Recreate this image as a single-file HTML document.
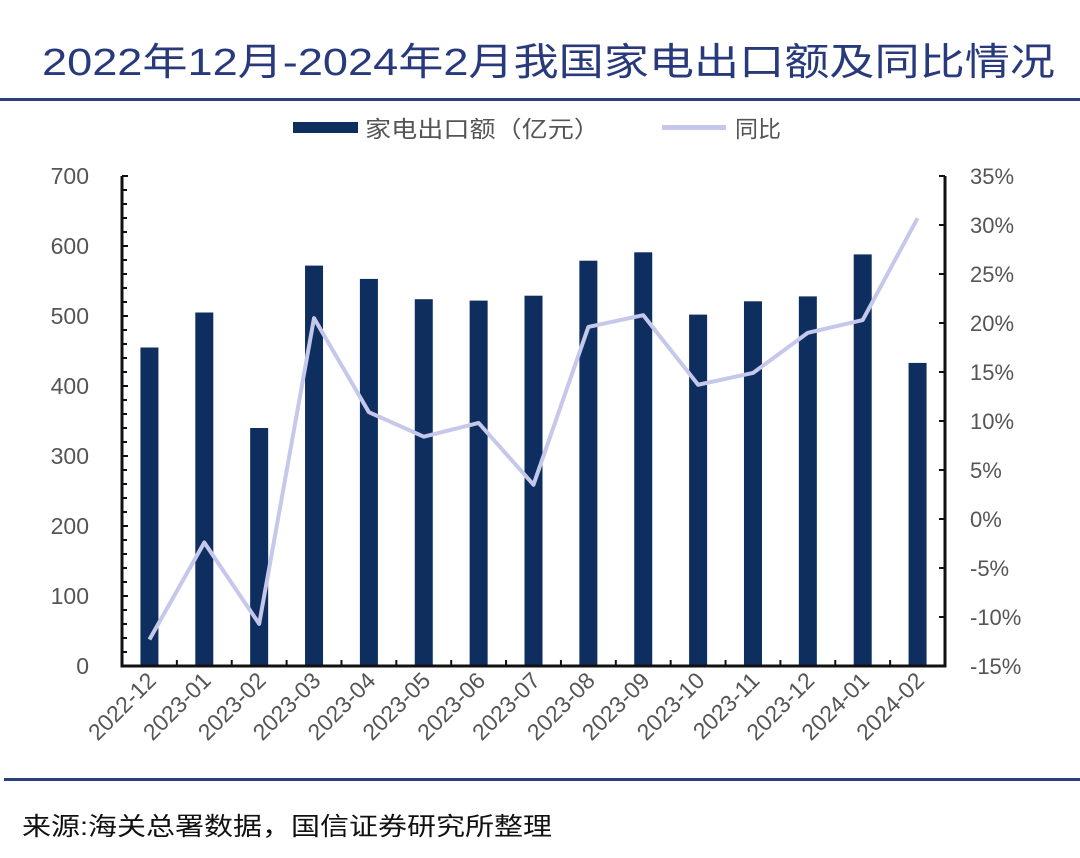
<!DOCTYPE html>
<html><head><meta charset="utf-8"><style>
body{margin:0;background:#fff;width:1080px;height:853px;overflow:hidden;font-family:"Liberation Sans","Noto Sans CJK SC",sans-serif;}
</style></head><body>
<svg width="1080" height="853" xmlns="http://www.w3.org/2000/svg">
<text x="42" y="75" textLength="1013" lengthAdjust="spacingAndGlyphs" font-size="38" fill="#283a7c">2022年12月-2024年2月我国家电出口额及同比情况</text>
<rect x="0" y="98" width="1080" height="3" fill="#2c3f7a"/>
<rect x="4" y="778" width="1076" height="3" fill="#2c3f7a"/>
<text x="22" y="835" textLength="530" lengthAdjust="spacingAndGlyphs" font-size="25" fill="#111">来源:海关总署数据，国信证券研究所整理</text>
<g>
<rect x="293" y="122" width="65" height="11" fill="#0d2e5e"/>
<text x="365" y="137" textLength="235" lengthAdjust="spacingAndGlyphs" font-size="23" fill="#555">家电出口额（亿元）</text>
<rect x="662" y="125" width="64" height="5" fill="#c5c8ea"/>
<text x="735" y="137" font-size="23" fill="#555">同比</text>
</g>
<g id="plot"></g>
</svg>
<script>
const categories=["2022-12","2023-01","2023-02","2023-03","2023-04","2023-05","2023-06","2023-07","2023-08","2023-09","2023-10","2023-11","2023-12","2024-01","2024-02"];
const exportValues=[455,505,340,572,553,524,522,529,579,591,502,521,528,588,433];
const yoyValues=[-12.3,-2.4,-10.7,20.5,10.9,8.4,9.8,3.5,19.6,20.8,13.7,14.9,19.0,20.3,30.7];
const leftTicks=[0,100,200,300,400,500,600,700];
const rightTicks=[-15,-10,-5,0,5,10,15,20,25,30,35];
const NS="http://www.w3.org/2000/svg";
const g=document.getElementById('plot');
const X0=122,X1=945,Y0=666,Y1=176;
const step=(X1-X0)/categories.length;
const xc=i=>X0+step*(i+0.5);
const yL=v=>Y0-(v/700)*(Y0-Y1);
const yR=v=>Y0-((v+15)/50)*(Y0-Y1);
function mk(t,a){const e=document.createElementNS(NS,t);for(const k in a)e.setAttribute(k,a[k]);g.appendChild(e);return e;}
exportValues.forEach((v,i)=>{
 const r=mk('rect',{x:xc(i)-9,y:yL(v),width:18,height:Y0-yL(v),fill:'#0d2e5e'});
 
 
});
const pts=yoyValues.map((v,i)=>xc(i)+','+yR(v)).join(' ');
const pl=mk('polyline',{points:pts,fill:'none',stroke:'#c5c8ea','stroke-width':4,'stroke-linejoin':'round'});


const ax=mk('path',{d:`M${X0},${Y1}V${Y0}H${X1}V${Y1}`,fill:'none',stroke:'#111','stroke-width':3});


leftTicks.forEach(v=>{
 mk('line',{x1:X0,x2:X0+6,y1:yL(v),y2:yL(v),stroke:'#111','stroke-width':2});
 for(let k=1;k<5&&v<700;k++){const yy=yL(v+k*20);mk('line',{x1:X0,x2:X0+5,y1:yy,y2:yy,stroke:'#111','stroke-width':2});}
 const t=mk('text',{x:89,y:yL(v)+8,'text-anchor':'end','font-size':23,fill:'#555'});t.textContent=v;
 
 
});
rightTicks.forEach(v=>{
 mk('line',{x1:X1,x2:X1-6,y1:yR(v),y2:yR(v),stroke:'#111','stroke-width':2});
 const t=mk('text',{x:970,y:yR(v)+8,'font-size':22,fill:'#555'});t.textContent=v+'%';
 
 
});
for(let i=1;i<categories.length;i++){const x=X0+step*i;mk('line',{x1:x,x2:x,y1:Y0,y2:Y0-6,stroke:'#111','stroke-width':2});}
categories.forEach((c,i)=>{
 const x=xc(i)+8,y=Y0+16;
 const t=mk('text',{x:x,y:y,'text-anchor':'end','font-size':23,fill:'#555',transform:`rotate(-45 ${x} ${y})`});t.textContent=c;
 
 
});
</script>
</body></html>
